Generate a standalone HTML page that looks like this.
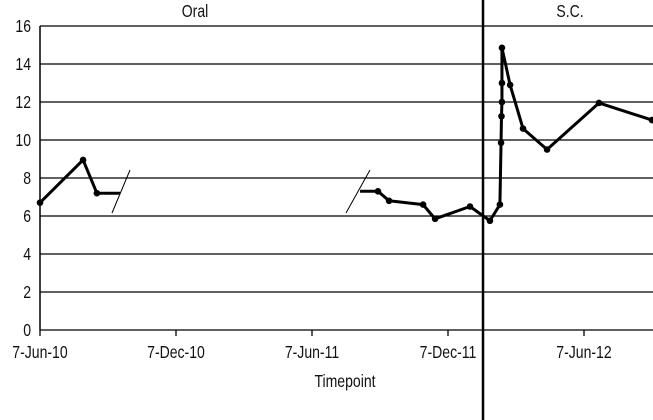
<!DOCTYPE html>
<html><head><meta charset="utf-8"><style>
html,body{margin:0;padding:0;background:#fff}
svg{display:block;font-family:"Liberation Sans",sans-serif}
</style></head><body>
<svg id="c" width="653" height="420"></svg>
<script>
const yTicks=[0,2,4,6,8,10,12,14,16];
const xTickMonths=[0,6,12,18,24];
const xTickLabels=["7-Jun-10","7-Dec-10","7-Jun-11","7-Dec-11","7-Jun-12"];
const seg1Months=[0,1.9,2.51,3.53];
const seg1Values=[6.7,8.95,7.2,7.2];
const seg2Months=[14.12,14.91,15.4,16.9,17.43,18.97,19.85,20.29,20.34,20.36,20.38,20.38,20.38,20.74,21.31,22.37,24.66,27.0];
const seg2Values=[7.3,7.3,6.8,6.6,5.85,6.5,5.75,6.6,9.85,11.25,12.0,13.0,14.85,12.9,10.6,9.5,11.95,11.05];
const markerIdx1=[0,1,2];
const markerIdx2=[1,2,3,4,5,6,7,8,9,10,11,12,13,14,15,16,17];
const x0=40,pxPerMonth=136/6,y0=330,pxPerUnit=19;
const X=m=>x0+m*pxPerMonth, Y=v=>y0-v*pxPerUnit;
const svg=document.getElementById('c');const NS='http://www.w3.org/2000/svg';
const FS=18,SX=0.78;
function mk(t,a,p){const e=document.createElementNS(NS,t);for(const k in a)e.setAttribute(k,a[k]);(p||svg).appendChild(e);return e;}
function txt(s,x,y,anchor){const t=mk('text',{x:x,y:y,'text-anchor':anchor,'font-size':FS,fill:'#111',transform:`translate(${x},0) scale(${SX},1) translate(${-x},0)`});t.textContent=s;return t;}
yTicks.forEach(v=>{
  const g=mk('line',{x1:x0,x2:653,y1:Y(v),y2:Y(v),stroke:'#000','stroke-width':1.3});
  
  
  const t=txt(String(v),31,Y(v)+6,'end');
  
  
});
const ax=mk('line',{x1:x0,x2:x0,y1:Y(16),y2:y0,stroke:'#000','stroke-width':1.5});


xTickMonths.forEach((m,i)=>{
  const tk=mk('line',{x1:X(m),x2:X(m),y1:y0,y2:y0+6,stroke:'#000','stroke-width':1.3});
  
  
  const t=txt(xTickLabels[i],X(m),y0+28,'middle');
  
  
});
function series(ms,vs,idx,name){
  const p=mk('polyline',{points:ms.map((m,i)=>X(m)+','+Y(vs[i])).join(' '),fill:'none',stroke:'#000','stroke-width':3,'stroke-linejoin':'round'});
  
  
  idx.forEach(i=>{const c=mk('circle',{cx:X(ms[i]),cy:Y(vs[i]),r:3.3,fill:'#000'});
    
    });
}
series(seg1Months,seg1Values,markerIdx1,'oral-series-1');
series(seg2Months,seg2Values,markerIdx2,'series-2');
[[112,213,130,170],[346,213,370,170]].forEach(b=>{
  const l=mk('line',{x1:b[0],y1:b[1],x2:b[2],y2:b[3],stroke:'#000','stroke-width':1});
  
  
});
const d=mk('line',{x1:483,x2:483,y1:0,y2:420,stroke:'#000','stroke-width':2.5});


[['Oral',195,17,'label-oral'],['S.C.',570,17,'label-sc'],['Timepoint',345,387,'x-axis-title']].forEach(a=>{
  const t=txt(a[0],a[1],a[2],'middle');
  
  
});
</script>
</body></html>
